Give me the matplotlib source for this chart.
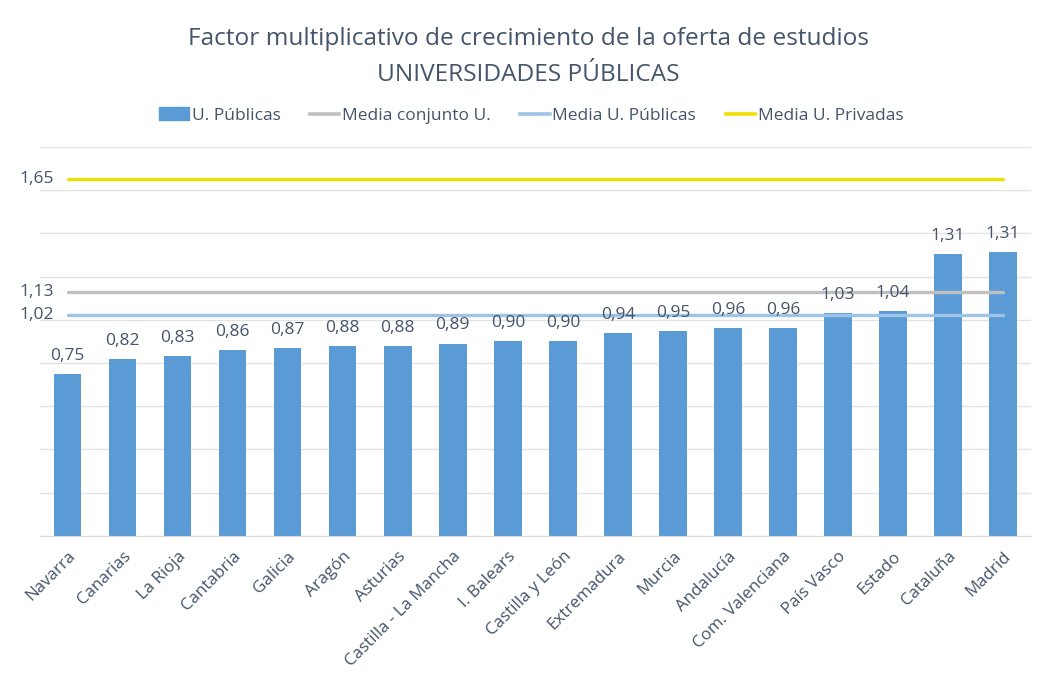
import matplotlib
matplotlib.use("Agg")
import matplotlib.pyplot as plt
from matplotlib.lines import Line2D
from matplotlib.patches import Patch

regiones = ["Navarra", "Canarias", "La Rioja", "Cantabria", "Galicia", "Aragón",
            "Asturias", "Castilla - La Mancha", "I. Balears", "Castilla y León",
            "Extremadura", "Murcia", "Andalucía", "Com. Valenciana", "País Vasco",
            "Estado", "Cataluña", "Madrid"]
factor = [0.75, 0.82, 0.83, 0.86, 0.87, 0.88, 0.88, 0.89, 0.90, 0.90,
          0.94, 0.95, 0.96, 0.96, 1.03, 1.04, 1.305, 1.312]
etiquetas = ["0,75", "0,82", "0,83", "0,86", "0,87", "0,88", "0,88", "0,89", "0,90",
             "0,90", "0,94", "0,95", "0,96", "0,96", "1,03", "1,04", "1,31", "1,31"]

media_conjunto = 1.13
media_publicas = 1.02
media_privadas = 1.65

txt = "#44546A"
plt.rcParams["font.family"] = ["Open Sans", "DejaVu Sans"]

fig = plt.figure(figsize=(10.4, 6.8), dpi=100)
ax = fig.add_axes([0.0385, 0.212, 0.9525, 0.572])

x = list(range(len(regiones)))
ax.bar(x, factor, width=0.5, color="#5B9BD5", zorder=2)

# lineas de medias, de la primera a la ultima barra
ax.plot([x[0], x[-1]], [media_conjunto] * 2, color="#C0C0C0", lw=2.4, zorder=3,
        solid_capstyle="round")
ax.plot([x[0], x[-1]], [media_publicas] * 2, color="#9DC3E6", lw=2.4, zorder=3,
        solid_capstyle="round")
ax.plot([x[0], x[-1]], [media_privadas] * 2, color="#EEE000", lw=2.4, zorder=3,
        solid_capstyle="round")

for xi, v, lab in zip(x, factor, etiquetas):
    ax.annotate(lab, (xi, v), xytext=(0, 13), textcoords="offset points",
                ha="center", va="center", fontsize=12.5, color=txt)

for v, lab in [(media_privadas, "1,65"), (media_conjunto, "1,13"), (media_publicas, "1,02")]:
    ax.text(-0.25, v, lab, ha="right", va="center", fontsize=12.5, color=txt)

ax.set_xlim(-0.5, len(regiones) - 0.5)
ax.set_ylim(0, 1.8)
ax.set_yticks([i * 0.2 for i in range(10)])
ax.set_yticklabels([])
ax.tick_params(axis="y", length=0)
ax.grid(axis="y", color="#E3E3E3", lw=1, zorder=0)
ax.set_xticks(x)
ax.set_xticklabels(regiones, rotation=45, ha="right", rotation_mode="anchor",
                   fontsize=12.2, color=txt)
ax.tick_params(axis="x", length=0, pad=9)
for s in ["top", "right", "left"]:
    ax.spines[s].set_visible(False)
ax.spines["bottom"].set_color("#D9D9D9")

fig.text(0.508, 0.942, "Factor multiplicativo de crecimiento de la oferta de estudios",
         ha="center", va="center", fontsize=17.6, color=txt)
fig.text(0.508, 0.890, "UNIVERSIDADES PÚBLICAS", ha="center", va="center",
         fontsize=17.6, color=txt)

handles = [Patch(color="#5B9BD5"),
           Line2D([], [], color="#C0C0C0", lw=2.6),
           Line2D([], [], color="#9DC3E6", lw=2.6),
           Line2D([], [], color="#EEE000", lw=2.6)]
names = ["U. Públicas", "Media conjunto U.", "Media U. Públicas", "Media U. Privadas"]
leg = fig.legend(handles, names, loc="center", bbox_to_anchor=(0.511, 0.830), ncol=4,
                 frameon=False, fontsize=12.5, handlelength=1.7, handleheight=0.75,
                 handletextpad=0.15, columnspacing=1.7)
for t in leg.get_texts():
    t.set_color(txt)

fig.savefig("out.png", dpi=100)
plt.close(fig)
